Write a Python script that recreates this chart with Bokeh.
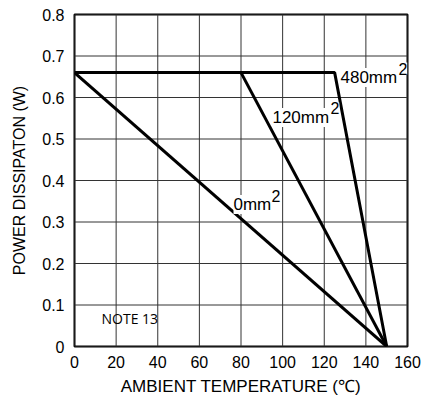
from bokeh.plotting import figure
from bokeh.models import Label, Range1d, FixedTicker
from bokeh.embed import file_html
from bokeh.resources import INLINE

# Data
x_480 = [0, 125, 150]
y_480 = [0.66, 0.66, 0.0]
x_120 = [80, 150]
y_120 = [0.66, 0.0]
x_0 = [0, 150]
y_0 = [0.66, 0.0]
x_ticks = [0, 20, 40, 60, 80, 100, 120, 140, 160]
y_ticks = [0, 0.1, 0.2, 0.3, 0.4, 0.5, 0.6, 0.7, 0.8]
labels = [("480mm", 127.8, 0.648), ("120mm", 95.1, 0.552), ("0mm", 76.4, 0.342)]
sup_offsets = {"480mm": 58, "120mm": 58, "0mm": 38}

FONT = "Liberation Sans"

p = figure(width=429, height=402, output_backend="svg", toolbar_location=None,
           x_range=Range1d(0, 160), y_range=Range1d(0, 0.8),
           min_border_left=74, min_border_right=22, min_border_top=14, min_border_bottom=56)

p.outline_line_color = "black"
p.outline_line_width = 2
p.xgrid.visible = False
p.ygrid.visible = False

for ax in (p.xaxis, p.yaxis):
    ax.axis_line_color = None
    ax.major_tick_line_color = None
    ax.minor_tick_line_color = None
    ax.major_tick_out = 0
    ax.major_tick_in = 0
    ax.major_label_text_font = FONT
    ax.major_label_text_font_size = "16px"
    ax.major_label_text_color = "black"
    ax.axis_label_text_font = FONT
    ax.axis_label_text_font_style = "normal"
    ax.axis_label_text_color = "black"

p.xaxis.ticker = FixedTicker(ticks=x_ticks)
p.yaxis.ticker = FixedTicker(ticks=y_ticks)
p.yaxis.major_label_overrides = {0: "0"}
p.xaxis.axis_label = "AMBIENT TEMPERATURE (\u2103)"
p.yaxis.axis_label = "POWER DISSIPATON (W)"
p.xaxis.axis_label_text_font_size = "17px"
p.yaxis.axis_label_text_font_size = "16px"
p.xaxis.major_label_standoff = 9
p.xaxis.axis_label_standoff = 6
p.yaxis.major_label_standoff = 10
p.yaxis.axis_label_standoff = 11

# grid lines drawn from the tick arrays
p.segment(x0=x_ticks, y0=[y_ticks[0]] * len(x_ticks), x1=x_ticks,
          y1=[y_ticks[-1]] * len(x_ticks), line_color="#333333", line_width=1)
p.segment(x0=[x_ticks[0]] * len(y_ticks), y0=y_ticks, x1=[x_ticks[-1]] * len(y_ticks),
          y1=y_ticks, line_color="#333333", line_width=1)

for xs, ys in ((x_480, y_480), (x_120, y_120), (x_0, y_0)):
    p.line(xs, ys, line_color="black", line_width=3)

for txt, lx, ly in labels:
    p.add_layout(Label(x=lx, y=ly, text=txt, text_font=FONT, text_font_size="17px",
                       text_color="black", text_baseline="alphabetic",
                       background_fill_color="white", background_fill_alpha=1.0))
    p.add_layout(Label(x=lx, y=ly, x_offset=sup_offsets[txt], y_offset=9, text="2",
                       text_font=FONT, text_font_size="16px", text_color="black",
                       text_baseline="alphabetic",
                       background_fill_color="white", background_fill_alpha=1.0))

p.add_layout(Label(x=13, y=0.045, text="NOTE 13", text_font="Open Sans",
                   text_font_size="14px", text_color="black"))

open("out.html", "w").write(file_html(p, INLINE))
